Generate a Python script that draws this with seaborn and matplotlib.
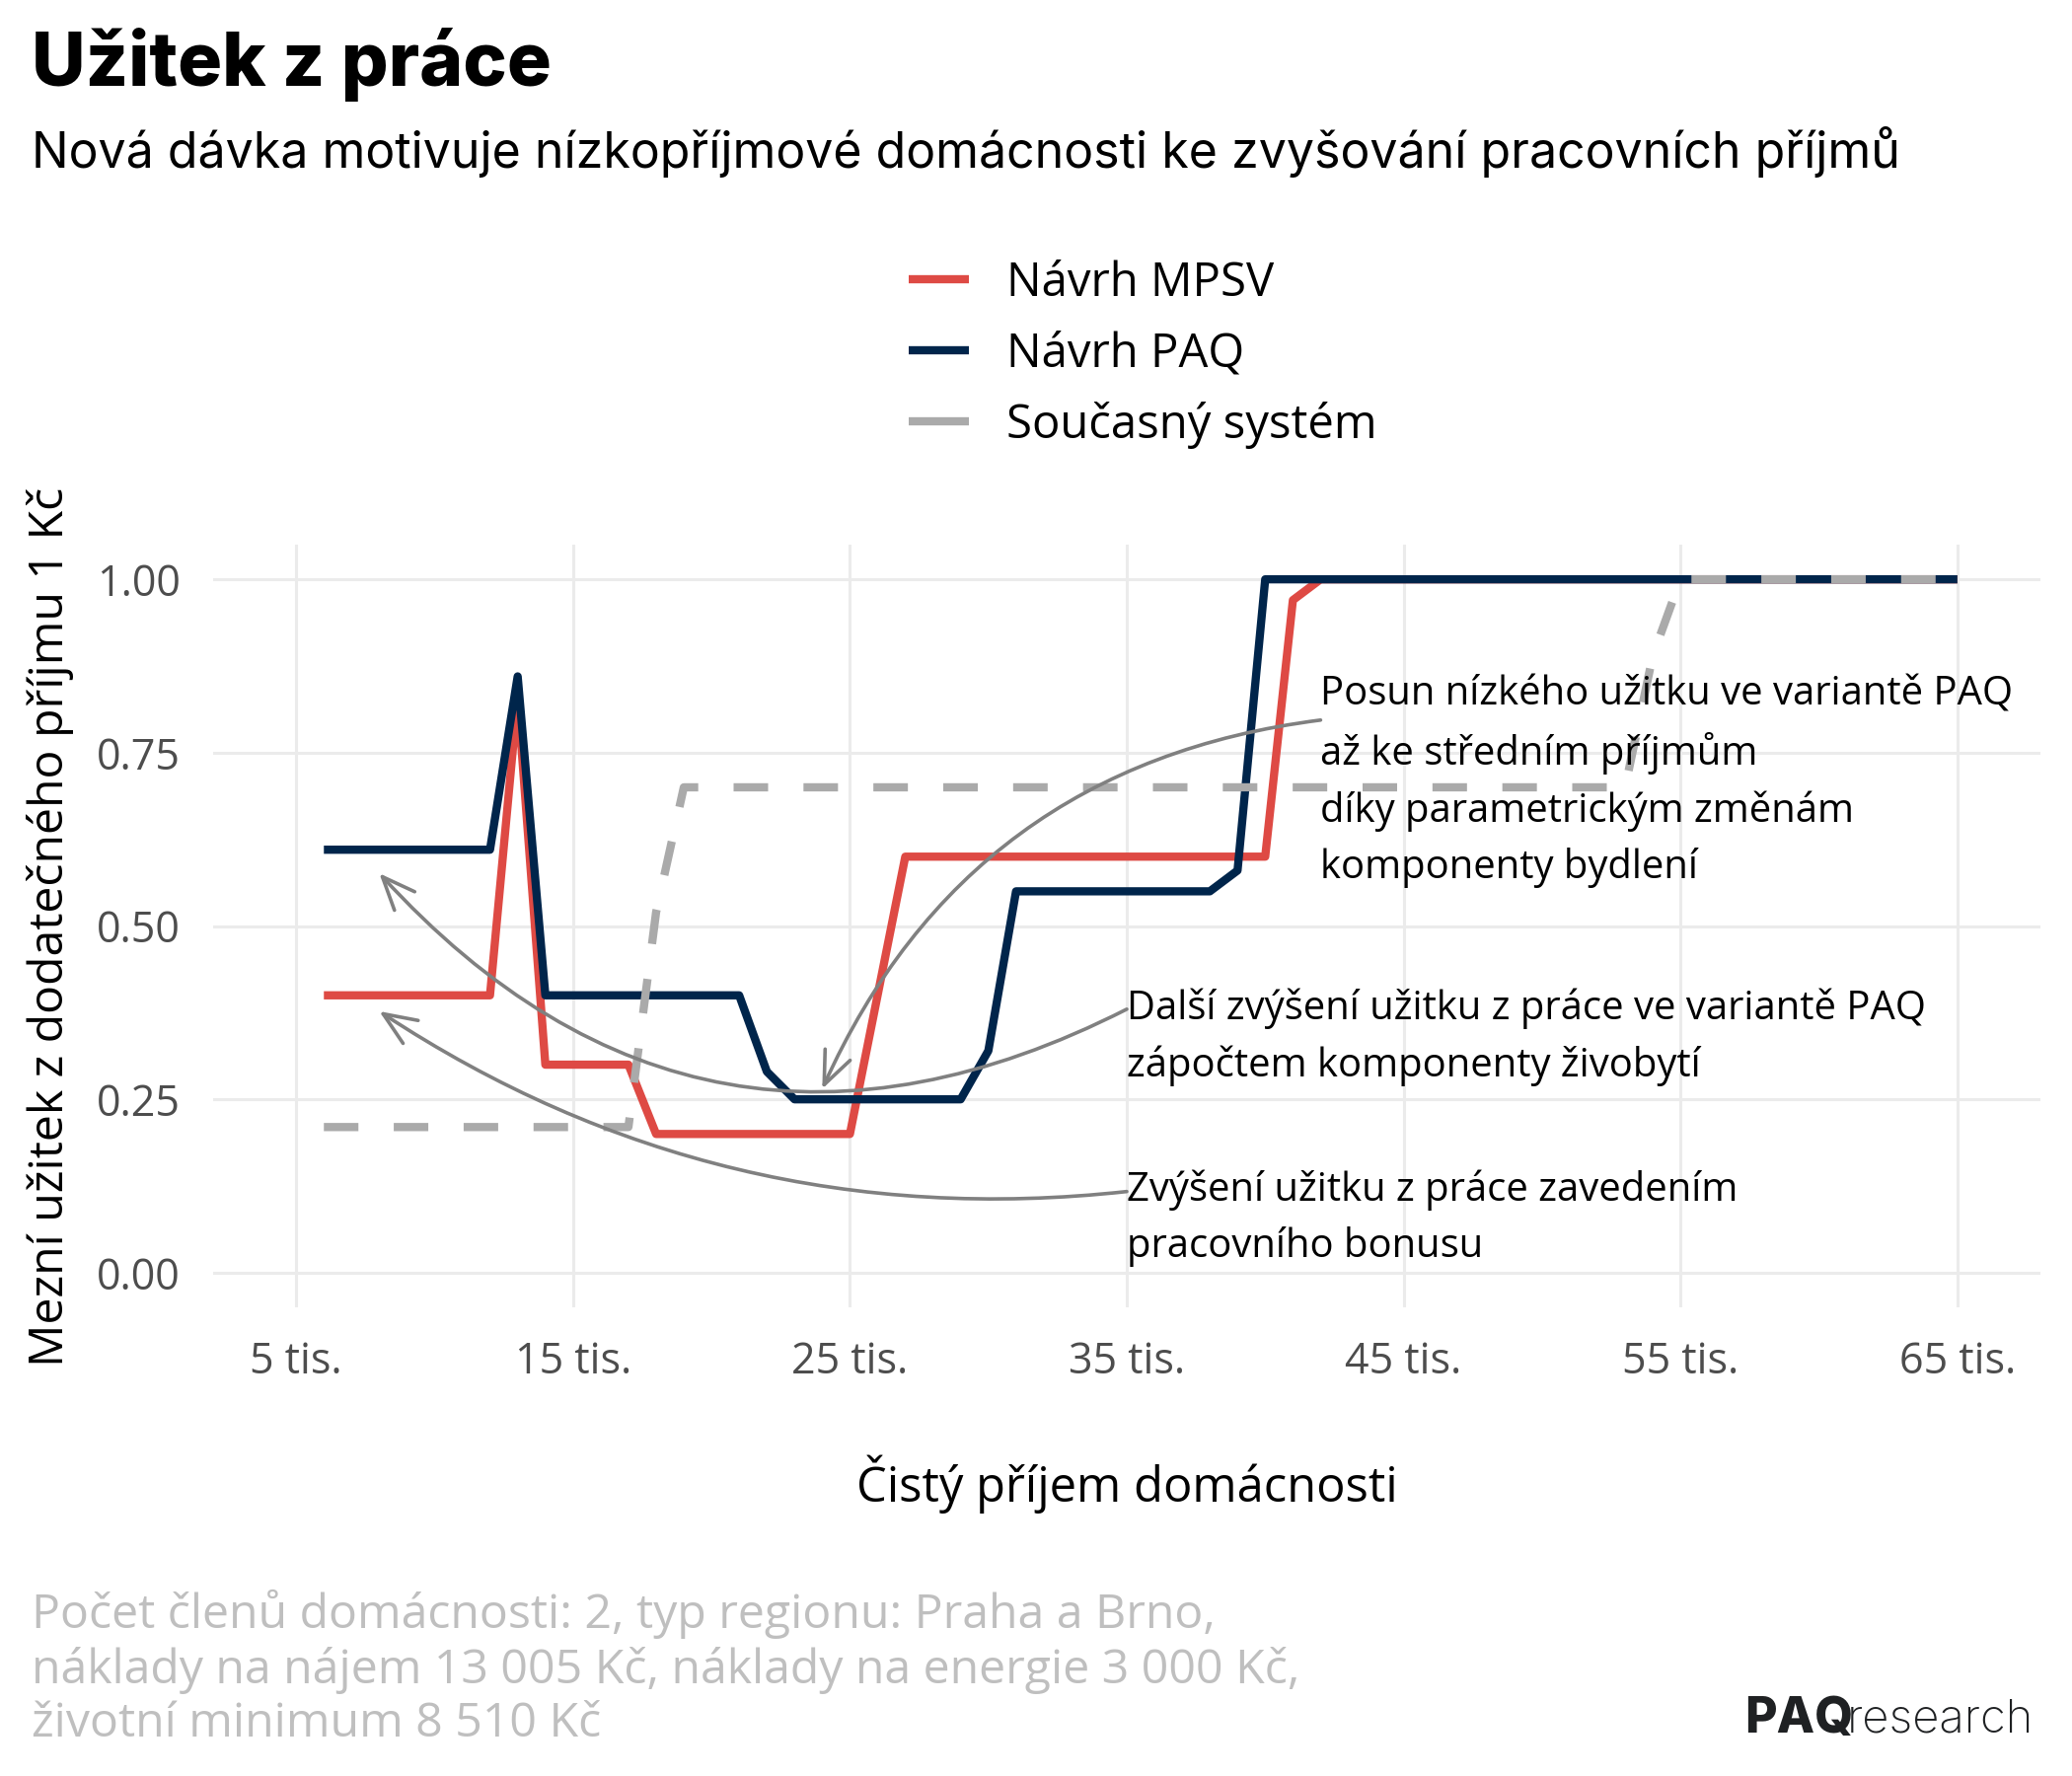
import numpy as np
import pandas as pd
import matplotlib
matplotlib.use("Agg")
import matplotlib.pyplot as plt
from matplotlib.lines import Line2D
import seaborn as sns

# Data (net household income in thousands CZK, marginal utility of 1 CZK)
mpsv_x = [6, 12, 13, 14, 17, 18, 25, 27, 40, 41, 42, 65]
mpsv_y = [0.40, 0.40, 0.83, 0.30, 0.30, 0.20, 0.20, 0.60, 0.60, 0.97, 1.00, 1.00]

paq_x = [6, 12, 13, 14, 21, 22, 23, 29, 30, 31, 38, 39, 40, 65]
paq_y = [0.61, 0.61, 0.86, 0.40, 0.40, 0.29, 0.25, 0.25, 0.32, 0.55, 0.55, 0.58, 1.00, 1.00]

cur_x = [6, 17, 18, 19, 53, 54, 55, 65]
cur_y = [0.21, 0.21, 0.52, 0.70, 0.70, 0.89, 1.00, 1.00]

series_names = ["Návrh MPSV", "Návrh PAQ", "Současný systém"]
series_colors = ["#DE4A44", "#00254B", "#AAAAAA"]

x_ticks = [5, 15, 25, 35, 45, 55, 65]
x_tick_labels = ["5 tis.", "15 tis.", "25 tis.", "35 tis.", "45 tis.", "55 tis.", "65 tis."]
y_ticks = [0.0, 0.25, 0.5, 0.75, 1.0]
y_tick_labels = ["0.00", "0.25", "0.50", "0.75", "1.00"]

# Set style
sns.set_theme(style="white")
plt.rcParams["font.family"] = ["Open Sans", "DejaVu Sans"]
plt.rcParams["text.color"] = "black"

fig = plt.figure(figsize=(10.5, 9), dpi=200)
ax = fig.add_axes([0.10286, 0.26389, 0.88190, 0.42944])

# Lines
df_mpsv = pd.DataFrame({"x": mpsv_x, "y": mpsv_y})
df_paq = pd.DataFrame({"x": paq_x, "y": paq_y})
df_cur = pd.DataFrame({"x": cur_x, "y": cur_y})

lw = 3.0
sns.lineplot(data=df_mpsv, x="x", y="y", ax=ax, color=series_colors[0], linewidth=lw,
             estimator=None, sort=False, zorder=3,
             solid_capstyle="butt", solid_joinstyle="round")
sns.lineplot(data=df_paq, x="x", y="y", ax=ax, color=series_colors[1], linewidth=lw,
             estimator=None, sort=False, zorder=4,
             solid_capstyle="butt", solid_joinstyle="round")
sns.lineplot(data=df_cur, x="x", y="y", ax=ax, color=series_colors[2], linewidth=lw,
             estimator=None, sort=False, zorder=5)
ax.lines[-1].set_linestyle((0, (4.2, 4.3)))
ax.lines[-1].set_dash_capstyle("butt")
ax.lines[-1].set_dash_joinstyle("round")

# Axes styling
ax.set_xlim(2, 68)
ax.set_ylim(-0.05, 1.05)
ax.set_xticks(x_ticks)
ax.set_xticklabels(x_tick_labels)
ax.set_yticks(y_ticks)
ax.set_yticklabels(y_tick_labels)
ax.tick_params(axis="both", length=0, pad=12, labelsize=15.5, labelcolor="#4D4D4D")
ax.grid(True, color="#EBEBEB", linewidth=1.1)
ax.set_axisbelow(True)
for s in ax.spines.values():
    s.set_visible(False)
ax.set_xlabel("")
ax.set_ylabel("")

fig.text(0.5438, 0.1644, "Čistý příjem domácnosti", ha="center", va="center", fontsize=17.6)
fig.text(0.0243, 0.478, "Mezní užitek z dodatečného příjmu 1 Kč", ha="center", va="center",
         rotation=90, fontsize=17.4)

# Legend (solid keys, as in the original)
handles = [Line2D([], [], color=c, linewidth=lw, solid_capstyle="butt") for c in series_colors]
fig.legend(handles, series_names, loc="upper left", bbox_to_anchor=(0.4386, 0.8537), frameon=False,
           fontsize=17, handlelength=1.3, handletextpad=0.8, labelspacing=0.51,
           borderpad=0, borderaxespad=0)

# Annotations
arrow_style = dict(arrowstyle="->,head_length=0.6,head_width=0.25", color="#808080",
                   lw=1.3, shrinkA=0, shrinkB=0, mutation_scale=20)
note_kw = dict(ha="left", va="center", fontsize=14.4, linespacing=1.52, zorder=6)

ax.text(42.0, 0.7085, "Posun nízkého užitku ve variantě PAQ\naž ke středním příjmům\n"
        "díky parametrickým změnám\nkomponenty bydlení", **note_kw)
ax.annotate("", xy=(24.0, 0.265), xytext=(42.0, 0.797),
            arrowprops=dict(connectionstyle="arc3,rad=0.28", **arrow_style), zorder=6)

ax.text(35.0, 0.339, "Další zvýšení užitku z práce ve variantě PAQ\nzápočtem komponenty živobytí",
        **note_kw)
ax.annotate("", xy=(8.0, 0.576), xytext=(35.0, 0.38),
            arrowprops=dict(connectionstyle="arc3,rad=-0.38", **arrow_style), zorder=6)

ax.text(35.0, 0.079, "Zvýšení užitku z práce zavedením\npracovního bonusu", **note_kw)
ax.annotate("", xy=(8.0, 0.377), xytext=(35.0, 0.117),
            arrowprops=dict(connectionstyle="arc3,rad=-0.18", **arrow_style), zorder=6)

# Titles
fig.text(0.0152, 1 - 87 / 1800, "Užitek z práce", ha="left", va="baseline",
         fontsize=27, fontweight="heavy", color="black", family=["Inter", "DejaVu Sans"])
fig.text(0.0152, 1 - 170 / 1800, "Nová dávka motivuje nízkopříjmové domácnosti ke zvyšování pracovních příjmů",
         ha="left", va="baseline", fontsize=18, color="black", family=["Inter", "DejaVu Sans"])

# Caption
fig.text(0.0152, 1 - 1611 / 1800,
         "Počet členů domácnosti: 2, typ regionu: Praha a Brno,\n"
         "náklady na nájem 13 005 Kč, náklady na energie 3 000 Kč,\n"
         "životní minimum 8 510 Kč",
         ha="left", va="top", fontsize=17.4, color="#BFBFBF", linespacing=1.2)

# Logo
fig.text(1768 / 2100, 1 - 1756 / 1800, "PAQ", ha="left", va="baseline", fontsize=18,
         fontweight="heavy", color="#1F2123", family=["Inter", "DejaVu Sans"])
fig.text(1872 / 2100, 1 - 1756 / 1800, "research", ha="left", va="baseline", fontsize=17,
         fontweight="light", color="#1F2123", family=["Inter", "DejaVu Sans"])

fig.savefig("out.png", dpi=200)
